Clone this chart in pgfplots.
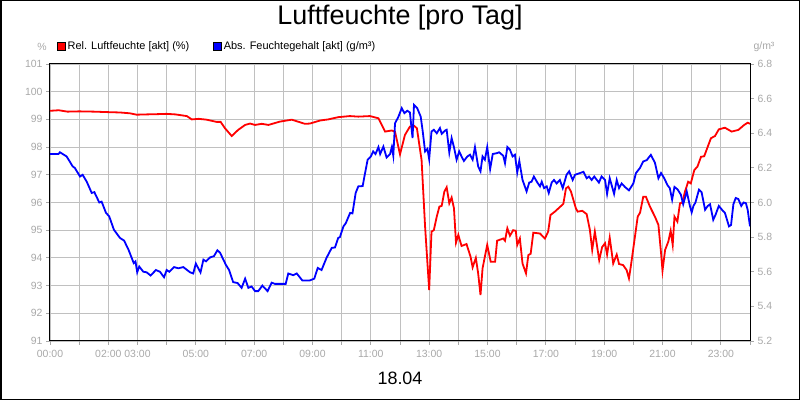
\documentclass[border=0pt]{standalone}
\usepackage{fontspec}
\setmainfont{Liberation Sans}
\usepackage{pgfplots}
\pgfplotsset{compat=1.18}
\definecolor{gridgrey}{HTML}{C0C0C0}
\definecolor{labgrey}{HTML}{A8A8A8}

\pgfplotsset{
  tafel/.style={
    at={(50bp,59bp)}, anchor=south west,
    width=700bp, height=277bp, scale only axis,
    xmin=0, xmax=24,
    tick align=outside, major tick length=4bp,
    tick style={color=labgrey, line width=0.8bp},
    ticklabel style={color=labgrey, font=\fontsize{10.5}{12}\selectfont},
    /pgf/number format/assume math mode=true,
    axis line style={black, line width=1bp},
  },
}

\begin{document}
\begin{tikzpicture}
\path[use as bounding box] (0,0) rectangle (800bp,400bp);
\draw[line width=1.5bp] (0.75bp,0.75bp) rectangle (799.25bp,399.25bp);

\node[font=\fontsize{27}{30}\selectfont] at (400bp,382bp) {Luftfeuchte [pro Tag]};
\node[font=\fontsize{18}{20}\selectfont] at (400bp,22bp) {18.04};
\node[font=\fontsize{10.5}{12}\selectfont, text=labgrey] at (42bp,353bp) {\%};
\node[font=\fontsize{10.5}{12}\selectfont, text=labgrey, anchor=west] at (750bp,353bp) {g/m³};

% linke Achse: relative Feuchte
\begin{axis}[
  tafel,
  ymin=91, ymax=101,
  ytick={91,92,...,101},
  xtick={0,1,...,24},
  xticklabels={00:00,{},02:00,03:00,{},05:00,{},07:00,{},09:00,{},11:00,{},13:00,{},15:00,{},17:00,{},19:00,{},21:00,{},23:00,{}},
  xticklabel style={yshift=-1.5bp},
  xtick pos=bottom, ytick pos=left,
  grid=major,
  grid style={color=gridgrey, line width=0.8bp},
  legend columns=2,
  legend image code/.code={\filldraw[#1, draw=black, line width=0.5bp] (0bp,-4bp) rectangle (8bp,4bp);},
  legend style={at={(axis description cs:0,1)}, anchor=south west,
    xshift=7bp, yshift=11bp, draw=none, fill=none, inner sep=0pt,
    font=\fontsize{11}{13}\selectfont,
    /tikz/every even column/.append style={column sep=22bp}},
]
\addplot[color=red, line width=1.8bp] coordinates {
(0,99.31) (0.3,99.33) (0.6,99.28) (1.0,99.29) (1.5,99.28) (2.06,99.26) (2.4,99.25) (2.74,99.22) (2.97,99.17) (3.3,99.18)
(3.7,99.19) (4.0,99.2) (4.3,99.18) (4.69,99.12) (4.86,99.0) (5.1,99.02) (5.37,98.99) (5.71,98.91) (5.85,98.91) (6.0,98.68)
(6.23,98.40) (6.45,98.62) (6.69,98.80) (6.86,98.85) (7.03,98.80) (7.26,98.84) (7.49,98.80) (7.88,98.92) (8.29,98.99) (8.5,98.92)
(8.74,98.84) (8.91,98.85) (9.26,98.96) (9.54,99.0) (9.88,99.08) (10.28,99.12) (10.57,99.10) (10.97,99.12) (11.26,99.04) (11.49,98.56)
(11.72,98.6) (11.83,98.55) (12.0,97.74) (12.17,98.44) (12.34,98.74) (12.48,98.77) (12.58,98.68) (12.74,97.53) (12.86,95.13) (13.0,92.84)
(13.08,94.95) (13.16,95.0) (13.26,95.49) (13.35,95.85) (13.43,95.88) (13.52,96.39) (13.6,96.55) (13.69,95.97) (13.77,96.18) (13.85,95.79)
(13.92,94.55) (14.0,94.83) (14.11,94.43) (14.28,94.5) (14.42,94.04) (14.49,93.66) (14.6,94.0) (14.68,93.44) (14.76,92.66) (14.83,93.62)
(14.99,94.47) (15.11,93.86) (15.26,93.86) (15.33,94.62) (15.54,94.7) (15.6,94.62) (15.68,95.07) (15.77,94.8) (15.88,95.0) (15.97,94.98)
(16.02,94.47) (16.11,94.7) (16.2,93.8) (16.32,93.44) (16.4,94.1) (16.48,94.15) (16.57,94.91) (16.8,94.88) (16.97,94.7) (17.08,94.95)
(17.16,95.55) (17.31,95.67) (17.6,95.95) (17.69,96.51) (17.77,96.57) (17.86,96.4) (18.03,95.79) (18.09,95.67) (18.25,95.7) (18.4,95.58)
(18.51,95.01) (18.59,94.29) (18.68,94.95) (18.83,93.92) (18.93,94.39) (19.03,94.53) (19.1,94.12) (19.19,94.73) (19.31,93.8) (19.43,94.12)
(19.51,93.78) (19.65,93.74) (19.77,93.56) (19.85,93.26) (19.92,93.74) (20.15,95.49) (20.23,95.63) (20.34,96.21) (20.43,96.21) (20.57,95.85)
(20.74,95.49) (20.86,95.19) (20.95,94.18) (21.0,93.54) (21.09,94.29) (21.2,94.59) (21.28,94.98) (21.35,94.47) (21.41,95.49) (21.51,95.31)
(21.6,95.97) (21.68,96.0) (21.77,96.39) (21.88,96.75) (21.97,96.69) (22.09,97.17) (22.2,97.3) (22.32,97.65) (22.43,97.67) (22.55,98.01)
(22.66,98.32) (22.8,98.4) (22.93,98.64) (23.14,98.7) (23.37,98.56) (23.6,98.62) (23.8,98.8) (23.92,98.88) (24.0,98.84)
};
\addlegendentry{Rel. Luftfeuchte [akt] (\%)}
\addlegendimage{color=blue}
\addlegendentry{Abs. Feuchtegehalt [akt] (g/m³)}
\end{axis}

% rechte Achse: absoluter Feuchtegehalt
\begin{axis}[
  tafel,
  ymin=5.2, ymax=6.8,
  ytick={5.2,5.4,...,6.8},
  axis y line*=right, hide x axis,
  yticklabel style={/pgf/number format/.cd, fixed, fixed zerofill, precision=1},
]
\addplot[color=blue, line width=1.8bp] coordinates {
(0,6.28) (0.29,6.28) (0.34,6.29) (0.57,6.266) (0.78,6.208) (0.85,6.2) (1.03,6.15) (1.12,6.16) (1.26,6.12) (1.43,6.055)
(1.52,6.06) (1.69,6.0) (1.77,6.005) (1.92,5.94) (2.03,5.92) (2.19,5.843) (2.4,5.795) (2.54,5.78) (2.69,5.728) (2.87,5.65)
(2.93,5.66) (2.99,5.597) (3.06,5.63) (3.2,5.60) (3.31,5.597) (3.45,5.578) (3.63,5.61) (3.77,5.6) (3.91,5.568) (4.0,5.61)
(4.09,5.60) (4.25,5.627) (4.4,5.62) (4.57,5.627) (4.8,5.597) (4.91,5.59) (5.0,5.647) (5.16,5.596) (5.26,5.67) (5.35,5.66)
(5.49,5.683) (5.62,5.69) (5.74,5.724) (5.83,5.71) (6.03,5.64) (6.14,5.61) (6.28,5.54) (6.43,5.535) (6.57,5.507) (6.69,5.56)
(6.8,5.507) (6.91,5.515) (7.03,5.488) (7.14,5.488) (7.28,5.52) (7.46,5.488) (7.6,5.537) (7.71,5.53) (8.08,5.53) (8.17,5.59)
(8.34,5.58) (8.46,5.59) (8.65,5.55) (8.91,5.55) (9.06,5.56) (9.18,5.622) (9.31,5.61) (9.48,5.68) (9.66,5.738) (9.77,5.74)
(9.88,5.795) (9.94,5.80) (10.06,5.862) (10.14,5.88) (10.29,5.94) (10.37,5.937) (10.48,6.055) (10.57,6.093) (10.72,6.095) (10.78,6.15)
(10.89,6.247) (11.0,6.266) (11.08,6.295) (11.16,6.28) (11.26,6.32) (11.32,6.28) (11.43,6.323) (11.54,6.26) (11.66,6.28) (11.72,6.32)
(11.77,6.27) (11.83,6.458) (11.94,6.493) (12.06,6.545) (12.15,6.516) (12.25,6.53) (12.34,6.52) (12.43,6.372) (12.48,6.564) (12.59,6.545)
(12.71,6.496) (12.78,6.41) (12.86,6.295) (12.94,6.31) (13.0,6.25) (13.08,6.41) (13.16,6.42) (13.26,6.40) (13.37,6.43) (13.43,6.397)
(13.54,6.415) (13.6,6.42) (13.69,6.289) (13.77,6.372) (13.85,6.32) (13.94,6.247) (14.03,6.295) (14.11,6.266) (14.19,6.24) (14.31,6.266)
(14.4,6.276) (14.49,6.247) (14.57,6.32) (14.68,6.208) (14.76,6.18) (14.83,6.266) (14.91,6.247) (14.99,6.32) (15.09,6.193) (15.18,6.28)
(15.32,6.285) (15.4,6.29) (15.54,6.27) (15.6,6.227) (15.68,6.32) (15.77,6.305) (15.86,6.266) (15.94,6.276) (16.02,6.174) (16.09,6.24)
(16.2,6.131) (16.34,6.064) (16.43,6.115) (16.51,6.12) (16.59,6.15) (16.71,6.115) (16.8,6.093) (16.86,6.12) (16.94,6.083) (17.03,6.093)
(17.1,6.055) (17.2,6.115) (17.28,6.13) (17.37,6.11) (17.48,6.13) (17.58,6.083) (17.71,6.16) (17.8,6.18) (17.92,6.13) (18.0,6.16)
(18.17,6.17) (18.29,6.177) (18.4,6.14) (18.48,6.15) (18.57,6.13) (18.66,6.15) (18.82,6.115) (18.91,6.15) (19.03,6.13) (19.1,6.05)
(19.19,6.14) (19.34,6.05) (19.43,6.13) (19.51,6.083) (19.6,6.11) (19.71,6.09) (19.85,6.07) (20.0,6.11) (20.09,6.17) (20.23,6.2)
(20.34,6.237) (20.46,6.245) (20.6,6.275) (20.74,6.23) (20.86,6.14) (20.95,6.17) (21.06,6.14) (21.17,6.10) (21.25,6.083) (21.33,6.016)
(21.41,6.09) (21.52,6.075) (21.63,6.045) (21.71,5.99) (21.83,6.064) (21.94,5.98) (22.0,5.943) (22.06,5.98) (22.13,6.0) (22.25,6.074)
(22.34,6.06) (22.46,5.958) (22.55,5.98) (22.63,5.99) (22.74,5.9) (22.82,5.93) (22.93,5.98) (23.08,5.95) (23.14,5.94) (23.28,5.862)
(23.35,5.87) (23.43,5.99) (23.51,6.026) (23.6,6.02) (23.7,5.98) (23.78,6.0) (23.86,5.996) (23.92,5.958) (24.0,5.862)
};
\end{axis}
\end{tikzpicture}
\end{document}
